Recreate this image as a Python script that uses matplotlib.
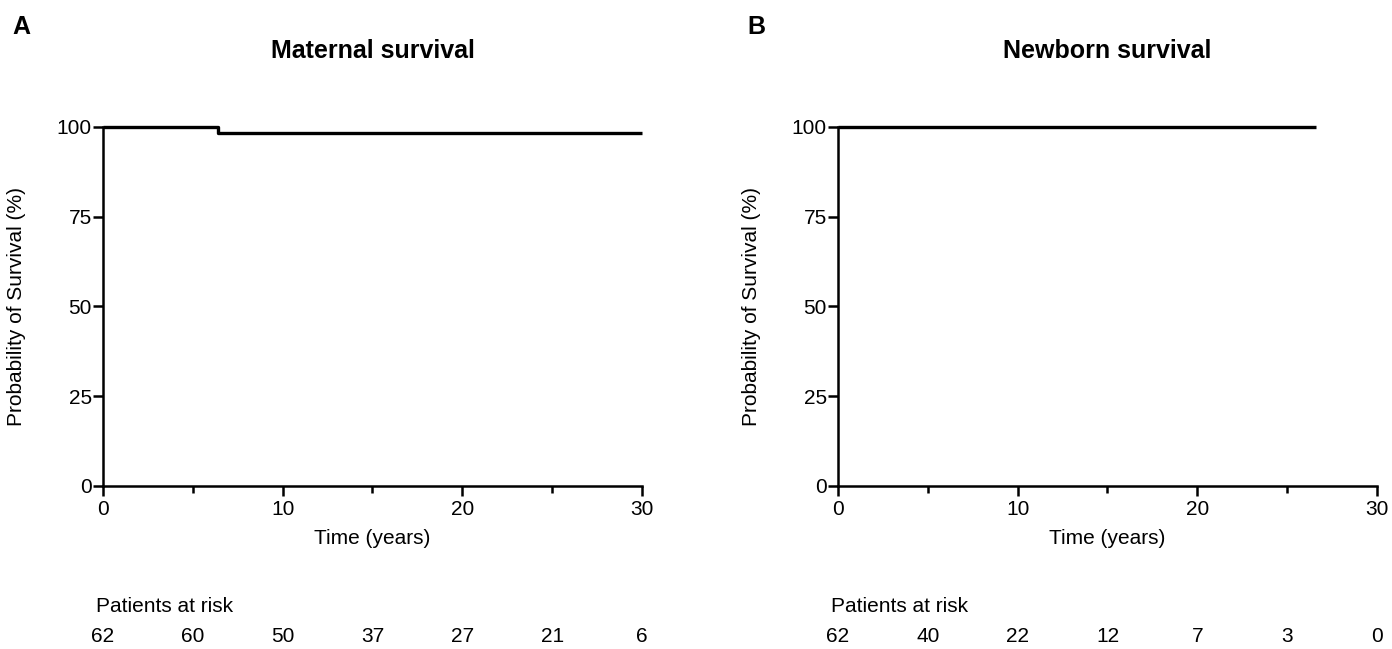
import matplotlib.pyplot as plt
from matplotlib.ticker import MultipleLocator

plt.rcParams['font.family'] = ['Liberation Sans', 'DejaVu Sans']

# Data
# maternal: one death at ~6.4 years out of 62, follow-up to 30 years
maternal_t = [0, 6.4, 6.4, 30]
maternal_s = [100, 100, 98.39, 98.39]
# newborn: no events, follow-up to ~26.6 years
newborn_t = [0, 26.6]
newborn_s = [100, 100]

risk_times = [0, 5, 10, 15, 20, 25, 30]
maternal_risk = [62, 60, 50, 37, 27, 21, 6]
newborn_risk = [62, 40, 22, 12, 7, 3, 0]

panels = [
    ("A", "Maternal survival", maternal_t, maternal_s, maternal_risk, 0.074),
    ("B", "Newborn survival", newborn_t, newborn_s, newborn_risk, 0.602),
]

fig = plt.figure(figsize=(13.92, 6.49), dpi=100)

for letter, title, t, s, risk, left in panels:
    ax = fig.add_axes([left, 0.2512, 0.3872, 0.5532])
    ax.plot(t, s, color='black', lw=2.4, clip_on=False, solid_capstyle='butt')
    ax.set_xlim(0, 30)
    ax.set_ylim(0, 100)
    ax.set_xticks([0, 10, 20, 30])
    ax.xaxis.set_minor_locator(MultipleLocator(5))
    ax.set_yticks([0, 25, 50, 75, 100])
    for side in ['top', 'right']:
        ax.spines[side].set_visible(False)
    for side in ['left', 'bottom']:
        ax.spines[side].set_linewidth(1.8)
    ax.tick_params(which='major', length=7, width=1.8, labelsize=15, pad=3)
    ax.tick_params(axis='y', pad=1)
    ax.tick_params(which='minor', length=5, width=1.8)
    ax.set_xlabel("Time (years)", fontsize=15, labelpad=7)
    ax.set_ylabel("Probability of Survival (%)", fontsize=15, labelpad=22)

    fig.text(left + 0.3872 / 2, 0.921, title, ha='center', va='center',
             fontsize=18, fontweight='bold')
    fig.text(left - 0.065, 0.958, letter, ha='left', va='center',
             fontsize=18, fontweight='bold')

    # number at risk table
    ax.text(-0.4, -0.337, "Patients at risk", transform=ax.get_xaxis_transform(),
            ha='left', va='center', fontsize=15, clip_on=False)
    for x, n in zip(risk_times, risk):
        ax.text(x, -0.42, str(n), transform=ax.get_xaxis_transform(),
                ha='center', va='center', fontsize=15, clip_on=False)

fig.savefig("out.png", dpi=100)
